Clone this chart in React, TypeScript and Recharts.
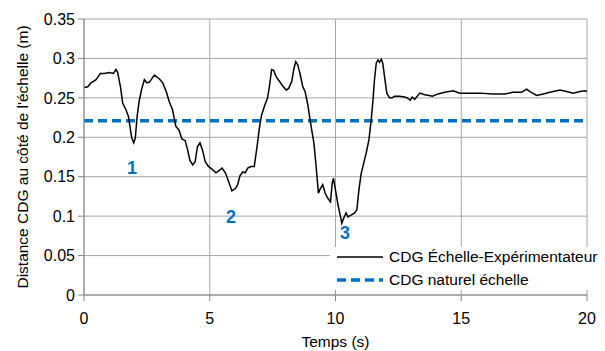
import React from 'react';
import { LineChart, Line, XAxis, YAxis, CartesianGrid, ReferenceLine, ReferenceDot } from 'recharts';

// temps (s)
const times = [
  0, 0.15, 0.28, 0.48, 0.65, 0.81, 1.0, 1.17, 1.27, 1.34,
  1.45, 1.54, 1.67, 1.77, 1.85, 1.9, 1.98, 2.04, 2.11, 2.2,
  2.3, 2.4, 2.5, 2.6, 2.8, 3.0, 3.13, 3.27, 3.39, 3.52,
  3.65, 3.78, 3.89, 4.02, 4.12, 4.21, 4.32, 4.42, 4.51, 4.61,
  4.71, 4.82, 4.95, 5.11, 5.25, 5.38, 5.49, 5.62, 5.75, 5.88,
  6.02, 6.11, 6.2, 6.31, 6.41, 6.51, 6.64, 6.77, 6.88, 6.97,
  7.06, 7.17, 7.3, 7.37, 7.46, 7.54, 7.64, 7.77, 7.9, 8.04,
  8.14, 8.26, 8.34, 8.42, 8.5, 8.6, 8.7, 8.79, 8.9, 9.0,
  9.14, 9.23, 9.32, 9.4, 9.49, 9.59, 9.69, 9.8, 9.87, 9.92,
  10.0, 10.09, 10.2, 10.25, 10.32, 10.42, 10.5, 10.6, 10.76, 10.85,
  10.93, 11.02, 11.12, 11.22, 11.33, 11.42, 11.49, 11.55, 11.62, 11.69,
  11.75, 11.82, 11.88, 11.95, 12.04, 12.15, 12.25, 12.35, 12.55, 12.75,
  12.85, 12.97, 13.05, 13.15, 13.35, 13.55, 13.72, 13.85, 14.08, 14.34,
  14.68, 14.94, 15.34, 15.74, 16.27, 16.73, 17.06, 17.4, 17.6, 17.73,
  18.0, 18.26, 18.53, 18.92, 19.19, 19.45, 19.72, 19.92, 20.0,
];

// CDG échelle-expérimentateur (m)
const cdgExp = [
  0.263, 0.264, 0.269, 0.273, 0.281, 0.281, 0.282, 0.281, 0.286, 0.282,
  0.264, 0.243, 0.235, 0.226, 0.209, 0.199, 0.193, 0.199, 0.226, 0.247,
  0.262, 0.273, 0.269, 0.27, 0.279, 0.274, 0.269, 0.258, 0.245, 0.235,
  0.214, 0.209, 0.198, 0.196, 0.184, 0.171, 0.165, 0.169, 0.188, 0.193,
  0.184, 0.169, 0.163, 0.159, 0.155, 0.158, 0.161, 0.155, 0.144, 0.132,
  0.135, 0.14, 0.151, 0.156, 0.155, 0.161, 0.163, 0.163, 0.188, 0.211,
  0.228, 0.239, 0.25, 0.264, 0.286, 0.285, 0.277, 0.271, 0.265, 0.26,
  0.262, 0.271, 0.286, 0.296, 0.292, 0.279, 0.264, 0.258, 0.241, 0.22,
  0.193, 0.163, 0.129, 0.135, 0.14, 0.129, 0.123, 0.118, 0.142, 0.148,
  0.133, 0.116, 0.099, 0.091, 0.097, 0.104, 0.099, 0.101, 0.104, 0.108,
  0.133, 0.154, 0.167, 0.18, 0.197, 0.222, 0.247, 0.273, 0.294, 0.298,
  0.295, 0.299, 0.294, 0.277, 0.256, 0.25, 0.25, 0.252, 0.252, 0.251,
  0.25, 0.247, 0.251, 0.248, 0.256, 0.254, 0.253, 0.252, 0.255, 0.257,
  0.259, 0.256, 0.256, 0.256, 0.255, 0.255, 0.257, 0.257, 0.261, 0.258,
  0.253, 0.255, 0.257, 0.26, 0.258, 0.256, 0.258, 0.259, 0.258,
];

const cdgNaturel = 0.221;

const xTicks = [0, 5, 10, 15, 20];
const yTicks = [0, 0.05, 0.1, 0.15, 0.2, 0.25, 0.3, 0.35];

// phase markers: label, time, height
const phaseLabels = ['1', '2', '3'];
const phaseTimes = [1.91, 5.85, 10.38];
const phaseValues = [0.161, 0.1, 0.079];

const data = times.map((t, i) => ({ t, exp: cdgExp[i] }));

const FONT = '"Liberation Sans", Arial, sans-serif';
const BLUE = '#0070c0';
const AXIS = '#868686';
const GRID = '#a6a6a6';

const LegendBox = () => (
  <svg width={275} height={43} style={{ position: 'absolute', left: 330, top: 247, background: '#fff', display: 'block' }}>
    <line x1={7} x2={53} y1={10} y2={10} stroke="#000" strokeWidth={1.5} />
    <text x={59} y={15} fontSize={15.5} fontFamily={FONT}>CDG Échelle-Expérimentateur</text>
    <line x1={7} x2={53} y1={33} y2={33} stroke={BLUE} strokeWidth={3.5} strokeDasharray="9 5" />
    <text x={59} y={38} fontSize={15.5} fontFamily={FONT}>CDG naturel échelle</text>
  </svg>
);

export default function App() {
  return (
    <div style={{ position: 'absolute', left: 0, top: 0, width: 605, height: 351, background: '#fff' }}>
      <LineChart width={605} height={351} data={data} margin={{ top: 19, right: 18, left: 0, bottom: 0 }}>
        <CartesianGrid stroke={GRID} strokeWidth={1} />
        <XAxis
          dataKey="t"
          type="number"
          domain={[0, 20]}
          ticks={xTicks}
          height={56}
          stroke={AXIS}
          tickSize={6}
          tickMargin={12}
          tick={{ fill: '#000', fontSize: 16, fontFamily: FONT }}
          label={{ value: 'Temps (s)', position: 'insideBottom', offset: 4, fill: '#000', fontSize: 15.5, fontFamily: FONT }}
        />
        <YAxis
          type="number"
          domain={[0, 0.35]}
          ticks={yTicks}
          width={84}
          stroke={AXIS}
          tickSize={6}
          tickMargin={3}
          tick={{ fill: '#000', fontSize: 16, fontFamily: FONT }}
          label={{ value: "Distance CDG au côté de l'échelle (m)", angle: -90, position: 'center', dx: -20, fill: '#000', fontSize: 15.5, fontFamily: FONT }}
        />
        <ReferenceLine y={cdgNaturel} stroke={BLUE} strokeWidth={3.5} strokeDasharray="9 5" />
        <Line
          type="linear"
          dataKey="exp"
          stroke="#000"
          strokeWidth={1.5}
          dot={false}
          isAnimationActive={false}
        />
        {phaseLabels.map((lab, i) => (
          <ReferenceDot
            key={lab}
            x={phaseTimes[i]}
            y={phaseValues[i]}
            r={1}
            fill="none"
            stroke="none"
            label={{ value: lab, position: 'center', fill: BLUE, fontSize: 18, fontWeight: 'bold', fontFamily: FONT }}
          />
        ))}
      </LineChart>
      <LegendBox />
    </div>
  );
}
